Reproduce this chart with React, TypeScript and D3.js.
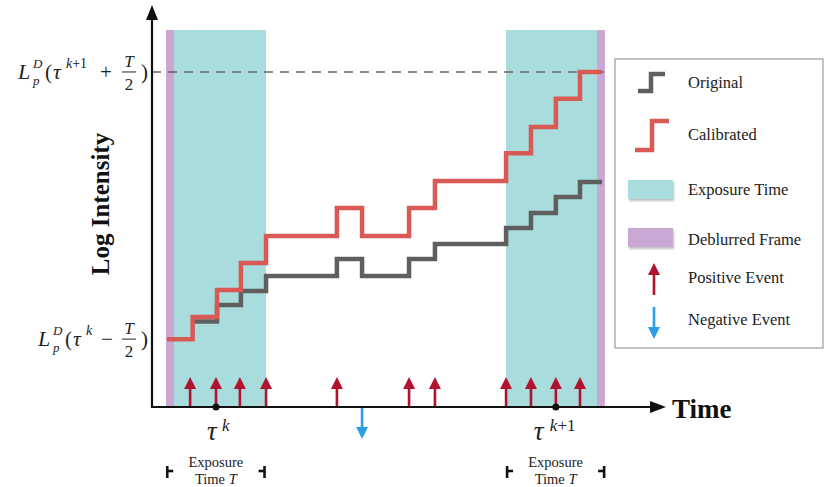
import React from "react";
import * as d3 from "d3";

// ---- data (time in arbitrary units, log intensity in arbitrary units) ----
const calibratedTimes = [0.59, 1.6, 2.56, 3.5, 4.49, 7.28, 8.27, 10.12, 11.14, 13.94, 14.92, 15.9, 16.85, 17.72];
const calibratedValues = [2.7, 3.58, 4.66, 5.73, 6.8, 7.92, 6.8, 7.92, 8.99, 10.1, 11.14, 12.26, 13.33, 13.33];
const originalTimes = [1.6, 2.56, 3.5, 4.49, 7.28, 8.27, 10.12, 11.14, 13.94, 14.92, 15.9, 16.85, 17.72];
const originalValues = [3.4, 4.06, 4.62, 5.21, 5.89, 5.21, 5.89, 6.49, 7.12, 7.72, 8.36, 8.95, 8.95];
const positiveEvents = [1.5, 2.52, 3.46, 4.49, 7.28, 10.12, 11.14, 13.94, 14.92, 15.9, 16.85];
const negativeEvents = [8.27];
const exposureWindows: [number, number][] = [[0.87, 4.49], [13.94, 17.52]];
const deblurredWindows: [number, number][] = [[0.55, 0.87], [17.52, 17.83]];
const frameTimes = [2.52, 15.9];
const bracketWindows: [number, number][] = [[0.6, 4.43], [13.98, 17.8]];
const targetLevel = 13.33;
const legendItems = ["Original", "Calibrated", "Exposure Time", "Deblurred Frame", "Positive Event", "Negative Event"];

const W = 831, H = 487;
const CYAN = "#a9dcdd", PURPLE = "#c9a8d4", RED = "#d95a55", GRAY = "#5f5f5f";
const POS = "#b0122f", NEG = "#2b9fe6";
const SERIF = "'Liberation Serif', 'Times New Roman', 'DejaVu Serif', serif";

const x = d3.scaleLinear().domain([0, 20]).range([152, 660]);
const y = d3.scaleLinear().domain([0, 15]).range([407, 30]);

const stepLine = d3.line<[number, number]>().x(d => x(d[0])).y(d => y(d[1])).curve(d3.curveStepAfter);

function MathTop({ x0, yc }: { x0: number; yc: number }) {
  return (
    <g transform={`translate(${x0},${yc})`} fontFamily={SERIF} fill="#222">
      <text x={0} y={7} fontSize={22} fontStyle="italic">L</text>
      <text x={15} y={-4} fontSize={13} fontStyle="italic">D</text>
      <text x={15} y={13} fontSize={13} fontStyle="italic">p</text>
      <text x={27} y={7} fontSize={21}>(</text>
      <text x={35} y={7} fontSize={22} fontStyle="italic">τ</text>
      <text x={48} y={-4} fontSize={14}><tspan fontStyle="italic">k</tspan>+1</text>
      <text x={82} y={7} fontSize={21}>+</text>
      <text x={111} y={-5} fontSize={17} fontStyle="italic" textAnchor="middle">T</text>
      <line x1={104} x2={118} y1={0} y2={0} stroke="#222" strokeWidth={1} />
      <text x={111} y={18} fontSize={17} textAnchor="middle">2</text>
      <text x={123} y={7} fontSize={21}>)</text>
    </g>
  );
}

function MathBottom({ x0, yc }: { x0: number; yc: number }) {
  return (
    <g transform={`translate(${x0},${yc})`} fontFamily={SERIF} fill="#222">
      <text x={0} y={7} fontSize={22} fontStyle="italic">L</text>
      <text x={15} y={-4} fontSize={13} fontStyle="italic">D</text>
      <text x={15} y={13} fontSize={13} fontStyle="italic">p</text>
      <text x={27} y={7} fontSize={21}>(</text>
      <text x={35} y={7} fontSize={22} fontStyle="italic">τ</text>
      <text x={48} y={-4} fontSize={14} fontStyle="italic">k</text>
      <text x={63} y={7} fontSize={21}>−</text>
      <text x={91} y={-5} fontSize={17} fontStyle="italic" textAnchor="middle">T</text>
      <line x1={84} x2={98} y1={0} y2={0} stroke="#222" strokeWidth={1} />
      <text x={91} y={18} fontSize={17} textAnchor="middle">2</text>
      <text x={103} y={7} fontSize={21}>)</text>
    </g>
  );
}

function UpArrow({ cx, base, tip, color, w = 2.6, hw = 6, hl = 12 }: any) {
  return (
    <g>
      <line x1={cx} x2={cx} y1={base} y2={tip + hl - 1} stroke={color} strokeWidth={w} />
      <path d={`M${cx},${tip} L${cx - hw},${tip + hl} L${cx + hw},${tip + hl} Z`} fill={color} />
    </g>
  );
}
function DownArrow({ cx, base, tip, color, w = 2.6, hw = 6, hl = 12 }: any) {
  return (
    <g>
      <line x1={cx} x2={cx} y1={base} y2={tip - hl + 1} stroke={color} strokeWidth={w} />
      <path d={`M${cx},${tip} L${cx - hw},${tip - hl} L${cx + hw},${tip - hl} Z`} fill={color} />
    </g>
  );
}

export default function App() {
  const calData = calibratedTimes.map((t, i) => [t, calibratedValues[i]] as [number, number]);
  const origData = originalTimes.map((t, i) => [t, originalValues[i]] as [number, number]);
  const y0 = y(0);
  const top = y(15);
  const lx = 615, ly = 59;
  return (
    <svg width={W} height={H} style={{ position: "absolute", left: 0, top: 0, background: "#fff" }} fontFamily={SERIF}>
      <defs>
        <filter id="sh" x="-20%" y="-20%" width="150%" height="160%">
          <feDropShadow dx="1" dy="2" stdDeviation="1" floodColor="#000" floodOpacity="0.25" />
        </filter>
      </defs>
      {exposureWindows.map(([a, b], i) => (
        <rect key={"e" + i} x={x(a)} y={top} width={x(b) - x(a)} height={y0 - top} fill={CYAN} />
      ))}
      {deblurredWindows.map(([a, b], i) => (
        <rect key={"d" + i} x={x(a)} y={top} width={x(b) - x(a)} height={y0 - top} fill={PURPLE} />
      ))}
      <line x1={x(0)} x2={x(17.8)} y1={y(targetLevel)} y2={y(targetLevel)} stroke="#666" strokeWidth={1.6} strokeDasharray="9,7" />
      <path d={stepLine(origData) || ""} fill="none" stroke={GRAY} strokeWidth={4.5} />
      <path d={stepLine(calData) || ""} fill="none" stroke={RED} strokeWidth={4.5} />
      {positiveEvents.map((t, i) => (
        <UpArrow key={"p" + i} cx={x(t)} base={y0} tip={377} color={POS} />
      ))}
      {negativeEvents.map((t, i) => (
        <DownArrow key={"n" + i} cx={x(t)} base={y0} tip={439} color={NEG} />
      ))}
      <line x1={x(0)} x2={x(0)} y1={y0 + 1} y2={18} stroke="#111" strokeWidth={2.2} />
      <path d={`M${x(0)},5 L${x(0) - 6},20 L${x(0) + 6},20 Z`} fill="#111" />
      <line x1={x(0) - 1} x2={652} y1={y0} y2={y0} stroke="#111" strokeWidth={2.2} />
      <path d={`M666,${y0} L650,${y0 - 6} L650,${y0 + 6} Z`} fill="#111" />
      <text x={672} y={418} fontSize={27} fontWeight="bold" fill="#111">Time</text>
      <text transform={`translate(109,204) rotate(-90)`} textAnchor="middle" fontSize={25} fontWeight="bold" fill="#111">Log Intensity</text>
      <MathTop x0={18} yc={y(targetLevel)} />
      <MathBottom x0={38} yc={y(calibratedValues[0])} />
      {frameTimes.map((t, i) => (
        <g key={"f" + i}>
          <circle cx={x(t)} cy={y0} r={3.5} fill="#111" />
          <text x={x(t) - (i === 0 ? 9 : 22)} y={440} fontSize={27} fontStyle="italic" fill="#222">τ</text>
          <text x={x(t) + (i === 0 ? 6 : -6)} y={431} fontSize={17} fill="#222">
            <tspan fontStyle="italic">k</tspan>{i === 1 ? "+1" : ""}
          </text>
        </g>
      ))}
      {bracketWindows.map(([a, b], i) => {
        const xa = x(a), xb = x(b), cx = (xa + xb) / 2;
        return (
          <g key={"b" + i} fill="#222">
            <line x1={xa} x2={xa} y1={466} y2={478} stroke="#111" strokeWidth={2.6} />
            <line x1={xa} x2={xa + 6} y1={471} y2={471} stroke="#111" strokeWidth={2.6} />
            <line x1={xb} x2={xb} y1={466} y2={478} stroke="#111" strokeWidth={2.6} />
            <line x1={xb - 6} x2={xb} y1={471} y2={471} stroke="#111" strokeWidth={2.6} />
            <text x={cx} y={467} fontSize={14.5} textAnchor="middle">Exposure</text>
            <text x={cx} y={484} fontSize={14.5} textAnchor="middle">Time <tspan fontStyle="italic">T</tspan></text>
          </g>
        );
      })}
      <g>
        <rect x={lx} y={ly} width={208} height={289} fill="#fff" stroke="#999" strokeWidth={1.2} />
        <path d={`M638,91 L651,91 L651,74 L665,74`} fill="none" stroke={GRAY} strokeWidth={4.5} />
        <path d={`M635,150 L652,150 L652,121 L669,121`} fill="none" stroke={RED} strokeWidth={4.5} />
        <rect x={628} y={180} width={45} height={19} fill={CYAN} filter="url(#sh)" />
        <rect x={628} y={228} width={45} height={19} fill={PURPLE} filter="url(#sh)" />
        <UpArrow cx={654} base={295} tip={263} color={POS} />
        <DownArrow cx={654} base={307} tip={339} color={NEG} />
        {legendItems.map((s, i) => (
          <text key={s} x={688} y={[88, 140, 195, 245, 283, 325][i]} fontSize={16.5} fill="#222">{s}</text>
        ))}
      </g>
    </svg>
  );
}
